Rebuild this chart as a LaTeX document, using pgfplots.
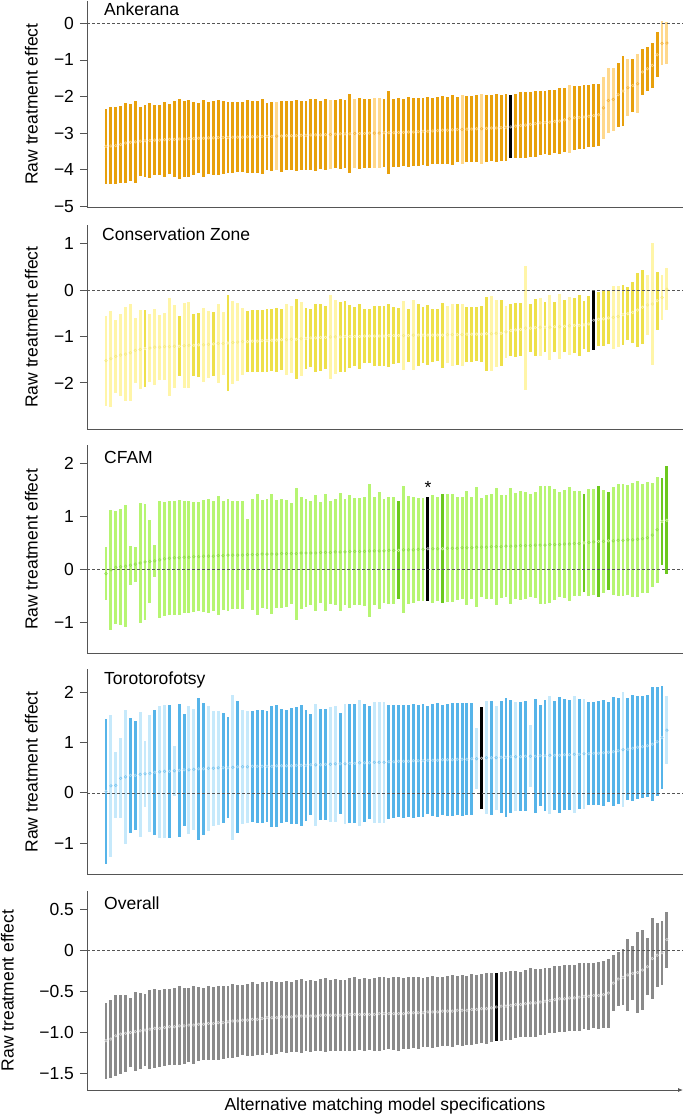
\documentclass[border=0pt]{standalone}
\usepackage{fontspec}
\setmainfont{Liberation Sans}
\usepackage{pgfplots}
\usepackage{pgfplotstable}
\pgfplotsset{compat=1.18}
\usetikzlibrary{arrows.meta}

\definecolor{axgray}{HTML}{555555}
\definecolor{oD}{HTML}{E8A00C}\definecolor{oL}{HTML}{FFD88C}\definecolor{oR}{HTML}{FFD27A}\definecolor{oM}{HTML}{F2B440}
\definecolor{yD}{HTML}{EEE04A}\definecolor{yL}{HTML}{FFF5A8}\definecolor{yR}{HTML}{FFF6B0}\definecolor{yM}{HTML}{F5EA80}
\definecolor{gD}{HTML}{6CC81E}\definecolor{gL}{HTML}{B6F572}\definecolor{gR}{HTML}{C8F894}\definecolor{gM}{HTML}{8EDC48}
\definecolor{bD}{HTML}{56B4E9}\definecolor{bL}{HTML}{C6E9FB}\definecolor{bR}{HTML}{A6DAF6}\definecolor{bM}{HTML}{7CC6EF}
\definecolor{kD}{HTML}{8A8A8A}\definecolor{kR}{HTML}{D4D4D4}

\tikzset{zero/.style={draw=axgray, line width=0.6pt, dash pattern=on 3pt off 2pt}}
\pgfplotsset{
  cls/.style={restrict expr to domain={\thisrow{c}}{#1:#1}},
  ci/.style n args={2}{only marks, mark=o, mark size=1.3pt, forget plot,
    mark options={draw=#2, line width=0.6pt},
    error bars/y dir=both, error bars/y explicit,
    error bars/error mark=none,
    error bars/error bar style={line width=2.9pt, draw=#1}},
  panel/.style={
    scale only axis, width=596pt,
    xmin=-2.9, xmax=119.3,
    axis x line*=bottom, axis y line*=left,
    axis line style={draw=axgray, line width=0.8pt, -},
    xtick=\empty,
    tick align=outside, major tick length=7pt,
    ytick style={draw=axgray, line width=0.8pt},
    ylabel={Raw treatment effect},
    ylabel style={at={(axis description cs:-0.0934,0.5)}, anchor=center},
  },
}

% columns: x (specification rank), y (estimate), e (CI half width), c (0 main, 1 light, 2 headline model)
\pgfplotstableread{
x y e c
1 -3.36 1.03 0
2 -3.35 1.05 0
3 -3.34 1.05 0
4 -3.31 1.06 0
5 -3.27 1.10 0
6 -3.25 1.05 0
7 -3.24 1.12 0
8 -3.22 0.94 0
9 -3.21 0.99 0
10 -3.20 1.02 0
11 -3.19 0.96 0
12 -3.19 0.96 0
13 -3.18 1.03 0
14 -3.17 0.96 0
15 -3.17 1.04 0
16 -3.16 1.09 0
17 -3.16 1.04 0
18 -3.15 1.05 0
19 -3.15 1.00 0
20 -3.14 0.96 0
21 -3.14 1.05 0
22 -3.13 0.98 0
23 -3.13 1.02 0
24 -3.12 1.03 0
25 -3.12 1.00 0
26 -3.12 0.96 0
27 -3.11 0.97 0
28 -3.11 0.95 0
29 -3.11 0.96 0
30 -3.10 1.00 0
31 -3.10 0.99 0
32 -3.10 0.99 0
33 -3.09 1.03 0
34 -3.09 0.92 0
35 -3.09 0.94 0
36 -3.08 0.94 1
37 -3.08 0.97 0
38 -3.07 0.94 0
39 -3.07 0.94 0
40 -3.07 0.97 0
41 -3.06 0.95 0
42 -3.06 0.94 0
43 -3.05 0.97 0
44 -3.05 0.99 0
45 -3.05 0.94 0
46 -3.04 0.96 0
47 -3.04 0.95 1
48 -3.03 0.93 0
49 -3.02 0.96 0
50 -3.02 0.93 0
51 -3.02 1.08 0
52 -3.01 0.94 1
53 -3.01 0.96 0
54 -3.01 0.95 0
55 -3.00 0.94 0
56 -3.00 0.96 1
57 -3.00 0.95 1
58 -2.99 0.93 0
59 -2.99 1.14 0
60 -2.99 0.93 0
61 -2.98 0.94 0
62 -2.98 0.92 0
63 -2.97 0.96 0
64 -2.97 0.92 0
65 -2.96 0.93 0
66 -2.95 0.92 0
67 -2.95 0.94 0
68 -2.94 0.90 0
69 -2.93 0.91 0
70 -2.92 0.93 0
71 -2.92 0.92 0
72 -2.91 0.96 0
73 -2.90 0.90 0
74 -2.90 0.94 1
75 -2.89 0.91 0
76 -2.89 0.90 0
77 -2.88 0.92 0
78 -2.88 0.95 1
79 -2.87 0.91 0
80 -2.86 0.89 0
81 -2.86 0.93 0
82 -2.85 0.90 0
83 -2.84 0.92 0
84 -2.83 0.86 2
85 -2.81 0.88 0
86 -2.79 0.90 0
87 -2.78 0.91 0
88 -2.76 0.89 0
89 -2.74 0.90 0
90 -2.72 0.88 0
91 -2.71 0.86 0
92 -2.70 0.89 0
93 -2.68 0.87 0
94 -2.67 0.89 0
95 -2.64 0.88 0
96 -2.61 0.92 1
97 -2.58 0.87 0
98 -2.57 0.86 0
99 -2.56 0.87 0
100 -2.54 0.85 0
101 -2.52 0.86 0
102 -2.50 0.84 0
103 -2.31 0.84 1
104 -2.11 0.88 1
105 -2.08 0.86 1
106 -1.95 0.87 0
107 -1.85 0.95 0
108 -1.76 0.78 1
109 -1.70 0.72 0
110 -1.65 0.80 1
111 -1.33 0.63 0
112 -1.24 0.60 0
113 -1.15 0.62 0
114 -0.86 0.61 0
115 -0.55 0.60 1
116 -0.54 0.58 1
}\tA

\pgfplotstableread{
x y e c
1 -1.52 0.97 1
2 -1.48 1.03 1
3 -1.43 0.78 1
4 -1.40 0.89 1
5 -1.38 1.02 1
6 -1.35 1.05 1
7 -1.30 0.70 1
8 -1.28 0.86 1
9 -1.26 0.82 0
10 -1.25 0.73 1
11 -1.23 0.82 1
12 -1.23 0.70 1
13 -1.22 0.72 1
14 -1.22 1.06 1
15 -1.21 0.89 1
16 -1.21 0.65 0
17 -1.20 0.92 1
18 -1.19 0.93 1
19 -1.19 0.67 0
20 -1.18 0.69 0
21 -1.18 0.80 1
22 -1.17 0.72 1
23 -1.16 0.69 0
24 -1.15 0.86 1
25 -1.15 0.68 1
26 -1.14 1.03 0
27 -1.13 0.89 1
28 -1.12 0.84 1
29 -1.11 0.72 1
30 -1.11 0.66 0
31 -1.10 0.66 0
32 -1.10 0.66 0
33 -1.09 0.67 0
34 -1.09 0.68 0
35 -1.08 0.67 0
36 -1.08 0.69 0
37 -1.07 0.66 0
38 -1.07 0.77 1
39 -1.06 0.72 1
40 -1.06 0.86 0
41 -1.05 0.80 1
42 -1.04 0.65 0
43 -1.03 0.63 0
44 -1.03 0.73 0
45 -1.02 0.73 0
46 -1.02 0.67 0
47 -1.01 0.91 1
48 -1.01 0.79 1
49 -1.01 0.75 0
50 -1.00 0.76 0
51 -1.00 0.68 0
52 -1.00 0.63 0
53 -1.00 0.70 0
54 -0.99 0.59 0
55 -0.99 0.59 0
56 -0.99 0.65 0
57 -0.99 0.65 0
58 -0.99 0.64 0
59 -0.98 0.68 0
60 -0.98 0.61 0
61 -0.98 0.60 0
62 -0.98 0.75 1
63 -0.98 0.57 0
64 -0.97 0.75 1
65 -0.97 0.67 0
66 -0.97 0.61 0
67 -0.97 0.65 0
68 -0.97 0.57 0
69 -0.97 0.56 0
70 -0.97 0.70 0
71 -0.96 0.62 1
72 -0.96 0.67 1
73 -0.96 0.65 0
74 -0.96 0.67 1
75 -0.95 0.59 0
76 -0.95 0.59 0
77 -0.95 0.58 0
78 -0.95 0.60 0
79 -0.94 0.80 0
80 -0.94 0.81 1
81 -0.93 0.72 1
82 -0.93 0.71 0
83 -0.90 0.56 1
84 -0.87 0.56 0
85 -0.86 0.58 0
86 -0.85 0.58 0
87 -0.82 1.34 1
88 -0.82 0.52 0
89 -0.81 0.61 0
90 -0.80 0.63 1
91 -0.80 0.54 0
92 -0.80 0.70 1
93 -0.79 0.54 0
94 -0.79 0.70 1
95 -0.78 0.56 0
96 -0.77 0.63 1
97 -0.76 0.59 0
98 -0.76 0.65 0
99 -0.75 0.52 0
100 -0.73 0.61 0
101 -0.65 0.64 2
102 -0.63 0.58 0
103 -0.62 0.59 0
104 -0.60 0.57 0
105 -0.59 0.67 1
106 -0.57 0.65 1
107 -0.53 0.65 0
108 -0.51 0.57 0
109 -0.48 0.66 0
110 -0.43 0.79 0
111 -0.37 0.80 0
112 -0.32 0.65 1
113 -0.30 1.31 1
114 -0.23 0.62 0
115 -0.16 0.48 1
116 0.02 0.45 1
}\tB

\pgfplotstableread{
x y e c
1 -0.08 0.50 1
2 -0.01 1.14 1
3 0.04 1.07 1
4 0.05 1.10 1
5 0.06 1.15 1
6 0.08 0.37 1
7 0.10 0.33 1
8 0.12 1.14 1
9 0.14 1.10 1
10 0.15 0.79 1
11 0.16 0.30 1
12 0.18 1.11 1
13 0.20 1.08 1
14 0.21 1.08 1
15 0.22 1.08 1
16 0.22 1.09 1
17 0.23 1.06 1
18 0.23 1.06 1
19 0.24 1.04 1
20 0.24 1.03 1
21 0.25 1.06 1
22 0.25 1.08 1
23 0.25 1.04 1
24 0.26 1.13 1
25 0.26 1.03 1
26 0.27 1.06 1
27 0.27 1.02 1
28 0.27 1.02 1
29 0.27 1.03 1
30 0.28 0.67 1
31 0.28 1.05 1
32 0.28 1.14 1
33 0.29 1.02 1
34 0.29 1.05 1
35 0.29 1.14 1
36 0.29 1.02 1
37 0.30 1.03 1
38 0.30 1.02 1
39 0.30 0.95 1
40 0.30 1.25 1
41 0.31 1.06 1
42 0.31 1.02 1
43 0.31 0.98 1
44 0.31 1.10 1
45 0.32 0.95 1
46 0.32 1.11 1
47 0.32 0.98 1
48 0.33 1.00 1
49 0.33 1.11 1
50 0.33 1.00 1
51 0.34 1.07 1
52 0.34 1.02 1
53 0.34 1.01 1
54 0.34 1.04 1
55 0.35 1.26 1
56 0.35 1.02 1
57 0.35 1.11 1
58 0.35 0.98 1
59 0.36 1.02 1
60 0.36 1.02 1
61 0.36 0.93 0
62 0.37 1.20 1
63 0.37 1.02 1
64 0.37 1.00 1
65 0.38 0.98 1
66 0.38 0.98 1
67 0.39 0.98 2
68 0.39 1.02 1
69 0.39 0.98 1
70 0.39 1.03 0
71 0.40 1.02 1
72 0.40 1.02 1
73 0.40 0.98 1
74 0.41 0.97 1
75 0.41 1.08 1
76 0.41 0.97 1
77 0.42 1.14 1
78 0.42 0.94 1
79 0.42 0.99 1
80 0.43 0.99 1
81 0.43 1.11 1
82 0.43 0.97 1
83 0.44 0.96 1
84 0.44 1.10 1
85 0.44 1.00 1
86 0.45 1.03 1
87 0.45 1.01 1
88 0.45 0.98 1
89 0.46 1.00 1
90 0.46 1.11 1
91 0.46 1.12 1
92 0.47 1.10 1
93 0.47 1.05 1
94 0.47 1.00 1
95 0.48 1.02 1
96 0.48 1.08 1
97 0.49 0.99 1
98 0.49 0.99 1
99 0.50 0.93 0
100 0.51 1.02 1
101 0.52 1.00 1
102 0.53 1.05 0
103 0.53 0.98 1
104 0.54 0.93 0
105 0.54 1.02 1
106 0.55 1.06 1
107 0.55 1.06 1
108 0.56 1.04 1
109 0.56 1.08 1
110 0.57 1.10 1
111 0.58 1.03 1
112 0.60 1.05 1
113 0.65 0.98 1
114 0.75 1.00 1
115 0.91 0.83 0
116 0.93 1.02 0
}\tC

\pgfplotstableread{
x y e c
1 0.03 1.45 0
2 0.14 1.41 1
3 0.15 0.66 1
4 0.29 0.80 1
5 0.32 1.33 1
6 0.35 1.15 0
7 0.35 1.08 0
8 0.37 1.24 1
9 0.38 0.66 1
10 0.39 1.16 1
11 0.41 1.24 0
12 0.42 1.32 1
13 0.43 1.32 1
14 0.43 1.33 0
15 0.44 0.50 1
16 0.45 1.32 0
17 0.46 1.11 0
18 0.46 1.28 1
19 0.47 1.21 1
20 0.48 1.42 0
21 0.48 1.32 0
22 0.49 1.25 1
23 0.49 1.14 1
24 0.50 1.13 1
25 0.50 1.10 0
26 0.50 1.01 0
27 0.51 1.45 1
28 0.52 1.31 0
29 0.52 1.14 1
30 0.52 1.12 1
31 0.53 1.10 0
32 0.53 1.12 0
33 0.53 1.12 0
34 0.53 1.11 0
35 0.53 1.21 0
36 0.54 1.21 0
37 0.54 1.13 0
38 0.54 1.11 0
39 0.54 1.16 0
40 0.55 1.16 0
41 0.55 1.20 0
42 0.55 1.11 0
43 0.56 1.01 0
44 0.56 1.22 1
45 0.56 1.11 0
46 0.57 1.11 0
47 0.57 1.14 1
48 0.58 1.15 1
49 0.58 1.01 0
50 0.58 1.19 1
51 0.59 1.18 0
52 0.59 1.19 0
53 0.60 1.25 1
54 0.60 1.18 0
55 0.60 1.13 0
56 0.61 1.21 1
57 0.61 1.21 1
58 0.61 1.21 1
59 0.62 1.14 0
60 0.62 1.13 0
61 0.63 1.12 0
62 0.63 1.13 0
63 0.63 1.12 0
64 0.64 1.14 0
65 0.64 1.12 0
66 0.64 1.13 0
67 0.65 1.08 0
68 0.65 1.12 0
69 0.65 1.14 0
70 0.66 1.10 0
71 0.66 1.12 0
72 0.66 1.13 0
73 0.67 1.12 0
74 0.67 1.13 0
75 0.67 1.12 0
76 0.68 1.12 0
77 0.68 0.61 1
78 0.69 1.02 2
79 0.70 1.13 1
80 0.70 1.14 0
81 0.70 1.04 1
82 0.71 1.12 0
83 0.71 1.19 0
84 0.72 1.13 0
85 0.72 1.09 1
86 0.72 1.09 0
87 0.73 1.10 0
88 0.73 0.62 1
89 0.73 1.14 0
90 0.74 1.01 0
91 0.74 1.11 0
92 0.75 1.18 1
93 0.75 1.09 0
94 0.75 1.16 0
95 0.76 1.11 0
96 0.76 1.10 0
97 0.77 1.17 1
98 0.77 1.10 0
99 0.78 1.10 1
100 0.78 1.03 0
101 0.79 1.03 0
102 0.79 1.04 0
103 0.80 1.06 0
104 0.81 1.00 0
105 0.82 1.09 0
106 0.84 1.06 0
107 0.86 1.15 1
108 0.87 1.02 0
109 0.89 1.06 0
110 0.91 1.03 0
111 0.92 1.02 0
112 0.94 1.02 0
113 0.97 1.14 0
114 1.02 1.08 0
115 1.10 1.03 0
116 1.25 0.68 1
}\tD

\pgfplotstableread{
x y e c
1 -1.10 0.46 0
2 -1.08 0.47 0
3 -1.04 0.49 0
4 -1.02 0.48 0
5 -1.01 0.47 0
6 -1.00 0.42 0
7 -0.99 0.48 0
8 -0.98 0.46 0
9 -0.97 0.44 0
10 -0.96 0.48 0
11 -0.95 0.48 0
12 -0.95 0.47 0
13 -0.94 0.47 0
14 -0.93 0.46 0
15 -0.93 0.47 0
16 -0.92 0.48 0
17 -0.92 0.46 0
18 -0.91 0.45 0
19 -0.91 0.47 0
20 -0.90 0.45 0
21 -0.90 0.44 0
22 -0.89 0.45 0
23 -0.89 0.44 0
24 -0.88 0.45 0
25 -0.88 0.44 0
26 -0.87 0.44 0
27 -0.86 0.45 0
28 -0.86 0.44 0
29 -0.85 0.43 0
30 -0.85 0.44 0
31 -0.84 0.45 0
32 -0.84 0.43 0
33 -0.83 0.44 0
34 -0.82 0.43 0
35 -0.82 0.45 0
36 -0.82 0.44 0
37 -0.81 0.43 0
38 -0.81 0.44 0
39 -0.81 0.43 0
40 -0.80 0.44 0
41 -0.80 0.45 0
42 -0.80 0.43 0
43 -0.80 0.44 0
44 -0.80 0.43 0
45 -0.79 0.44 0
46 -0.79 0.45 0
47 -0.79 0.43 0
48 -0.79 0.44 0
49 -0.79 0.43 0
50 -0.79 0.43 0
51 -0.78 0.44 0
52 -0.78 0.45 0
53 -0.78 0.43 0
54 -0.78 0.44 0
55 -0.78 0.43 0
56 -0.78 0.44 0
57 -0.77 0.45 0
58 -0.77 0.44 0
59 -0.77 0.43 0
60 -0.77 0.44 0
61 -0.77 0.45 0
62 -0.77 0.43 0
63 -0.76 0.44 0
64 -0.76 0.43 0
65 -0.76 0.44 0
66 -0.76 0.42 0
67 -0.75 0.43 0
68 -0.75 0.44 0
69 -0.75 0.43 0
70 -0.74 0.42 0
71 -0.74 0.43 0
72 -0.74 0.44 0
73 -0.73 0.42 0
74 -0.73 0.43 0
75 -0.73 0.42 0
76 -0.72 0.43 0
77 -0.72 0.42 0
78 -0.71 0.42 0
79 -0.71 0.43 0
80 -0.70 0.42 0
81 -0.69 0.41 2
82 -0.68 0.42 0
83 -0.68 0.41 0
84 -0.67 0.42 0
85 -0.66 0.41 0
86 -0.66 0.40 0
87 -0.65 0.41 0
88 -0.64 0.42 0
89 -0.64 0.41 0
90 -0.63 0.40 0
91 -0.62 0.41 0
92 -0.61 0.40 0
93 -0.60 0.41 0
94 -0.59 0.40 0
95 -0.59 0.41 0
96 -0.58 0.40 0
97 -0.58 0.40 0
98 -0.57 0.41 0
99 -0.56 0.40 0
100 -0.56 0.41 0
101 -0.55 0.40 0
102 -0.55 0.41 0
103 -0.54 0.41 0
104 -0.52 0.42 0
105 -0.40 0.34 0
106 -0.35 0.33 0
107 -0.33 0.34 0
108 -0.30 0.44 0
109 -0.28 0.33 0
110 -0.27 0.49 0
111 -0.24 0.49 0
112 -0.20 0.35 0
113 -0.10 0.49 0
114 -0.06 0.39 0
115 -0.03 0.39 0
116 0.13 0.34 0
}\tE

\begin{document}
\fontsize{17.5}{21}\selectfont
\begin{tikzpicture}
\useasboundingbox (0,0) rectangle (685pt,-1115pt);

% Panel 1: Ankerana
\begin{axis}[panel, at={(87pt,-207.8pt)}, anchor=south west, height=207.2pt,
  ymin=-5.04, ymax=0.62, ytick={0,-1,-2,-3,-4,-5}, yticklabels={0,−1,−2,−3,−4,−5}]
\addplot[ci={oD}{oR}, cls=0] table[x=x,y=y,y error=e]{\tA};
\addplot[ci={oL}{oM}, cls=1] table[x=x,y=y,y error=e]{\tA};
\addplot[ci={black}{gray!60}, cls=2] table[x=x,y=y,y error=e]{\tA};
\draw[zero] (axis cs:-2.9,0) -- (axis cs:119.3,0);
\node[anchor=base west, inner sep=0pt, xshift=17pt, yshift=-15.1pt] at (rel axis cs:0,1) {Ankerana};
\end{axis}

% Panel 2: Conservation Zone
\begin{axis}[panel, at={(87pt,-429.3pt)}, anchor=south west, height=204.2pt,
  ymin=-3.0, ymax=1.40, ytick={1,0,-1,-2}, yticklabels={1,0,−1,−2}]
\addplot[ci={yD}{yR}, cls=0] table[x=x,y=y,y error=e]{\tB};
\addplot[ci={yL}{yM}, cls=1] table[x=x,y=y,y error=e]{\tB};
\addplot[ci={black}{gray!60}, cls=2] table[x=x,y=y,y error=e]{\tB};
\draw[zero] (axis cs:-2.9,0) -- (axis cs:119.3,0);
\node[anchor=base west, inner sep=0pt, xshift=15pt, yshift=-15.7pt] at (rel axis cs:0,1) {Conservation Zone};
\end{axis}

% Panel 3: CFAM
\begin{axis}[panel, at={(87pt,-653.3pt)}, anchor=south west, height=208.0pt,
  ymin=-1.59, ymax=2.35, ytick={2,1,0,-1}, yticklabels={2,1,0,−1}]
\addplot[ci={gD}{gR}, cls=0] table[x=x,y=y,y error=e]{\tC};
\addplot[ci={gL}{gM}, cls=1] table[x=x,y=y,y error=e]{\tC};
\addplot[ci={black}{gray!60}, cls=2] table[x=x,y=y,y error=e]{\tC};
\draw[zero] (axis cs:-2.9,0) -- (axis cs:119.3,0);
\node[anchor=base, inner sep=0pt] at (axis cs:67,1.44) {*};
\node[anchor=base west, inner sep=0pt, xshift=17pt, yshift=-18.3pt] at (rel axis cs:0,1) {CFAM};
\end{axis}

% Panel 4: Torotorofotsy
\begin{axis}[panel, at={(87pt,-874.7pt)}, anchor=south west, height=205.3pt,
  ymin=-1.63, ymax=2.46, ytick={2,1,0,-1}, yticklabels={2,1,0,−1}]
\addplot[ci={bD}{bR}, cls=0] table[x=x,y=y,y error=e]{\tD};
\addplot[ci={bL}{bM}, cls=1] table[x=x,y=y,y error=e]{\tD};
\addplot[ci={black}{gray!60}, cls=2] table[x=x,y=y,y error=e]{\tD};
\draw[zero] (axis cs:-2.9,0) -- (axis cs:119.3,0);
\node[anchor=base west, inner sep=0pt, xshift=17pt, yshift=-15pt] at (rel axis cs:0,1) {Torotorofotsy};
\end{axis}

% Panel 5: Overall
\begin{axis}[panel, at={(87pt,-1090pt)}, anchor=south west, height=198.9pt,
  ymin=-1.70, ymax=0.72, ytick={0.5,0,-0.5,-1,-1.5}, yticklabels={0.5,0,−0.5,−1.0,−1.5},
  ylabel style={at={(axis description cs:-0.1334,0.5)}},
  x axis line style={-{Latex[length=5pt,width=4pt]}},
  xlabel={Alternative matching model specifications},
  xlabel style={at={(axis description cs:0.5,0)}, anchor=base, yshift=-20.7pt}]
\addplot[ci={kD}{kR}, cls=0] table[x=x,y=y,y error=e]{\tE};
\addplot[ci={black}{gray!60}, cls=2] table[x=x,y=y,y error=e]{\tE};
\draw[zero] (axis cs:-2.9,0) -- (axis cs:119.3,0);
\node[anchor=base west, inner sep=0pt, xshift=17pt, yshift=-18.3pt] at (rel axis cs:0,1) {Overall};
\end{axis}
\end{tikzpicture}
\end{document}
